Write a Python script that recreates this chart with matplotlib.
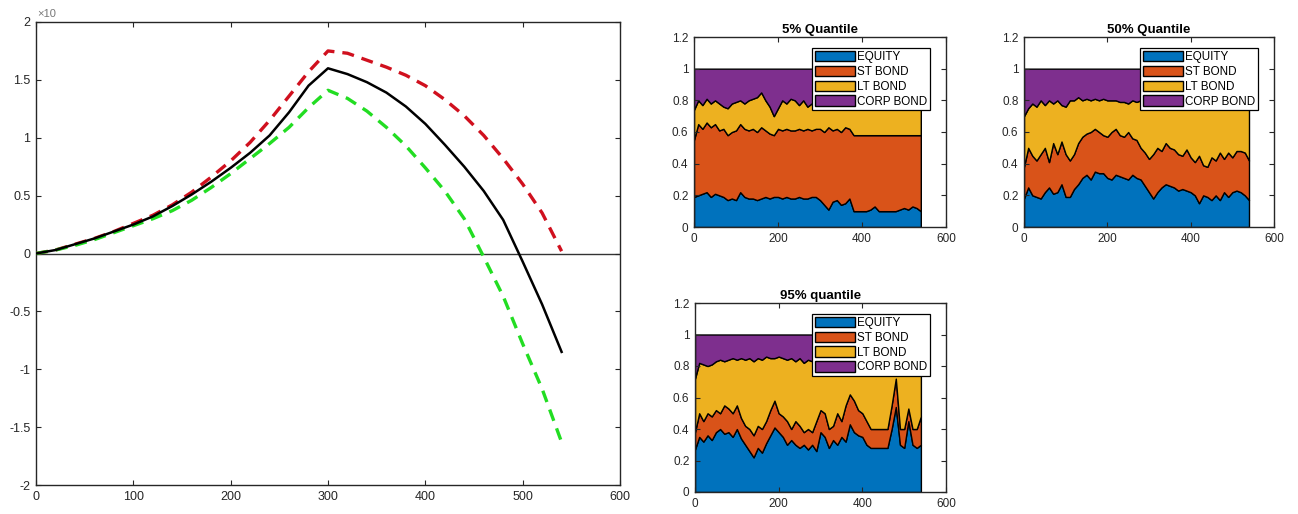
import numpy as np
import matplotlib
matplotlib.use("Agg")
import matplotlib.pyplot as plt
from matplotlib.patches import Patch

plt.rcParams['font.family'] = ['Liberation Sans', 'DejaVu Sans']

# ---------------- left panel data ----------------
t_path = [0, 20, 40, 60, 80, 100, 120, 140, 160, 180, 200, 220, 240, 260, 280,
          300, 320, 340, 360, 380, 400, 420, 440, 460, 480, 500, 520, 540]
mean_path = [0, 0.03, 0.08, 0.13, 0.19, 0.25, 0.32, 0.41, 0.51, 0.62, 0.74, 0.87, 1.02, 1.22, 1.45,
             1.60, 1.55, 1.48, 1.39, 1.27, 1.12, 0.94, 0.75, 0.54, 0.29, -0.07, -0.44, -0.85]
upper_path = [0, 0.03, 0.08, 0.13, 0.19, 0.26, 0.33, 0.42, 0.53, 0.66, 0.80, 0.96, 1.15, 1.36, 1.57,
              1.75, 1.73, 1.67, 1.61, 1.54, 1.45, 1.33, 1.19, 1.02, 0.82, 0.60, 0.35, 0.02]
lower_path = [0, 0.03, 0.07, 0.12, 0.18, 0.24, 0.30, 0.37, 0.46, 0.57, 0.69, 0.82, 0.95, 1.09, 1.26,
              1.41, 1.34, 1.23, 1.09, 0.93, 0.74, 0.54, 0.30, -0.03, -0.37, -0.78, -1.17, -1.63]

# ---------------- quantile panels data ----------------
steps = list(range(0, 550, 10))
labels = ['EQUITY', 'ST BOND', 'LT BOND', 'CORP BOND']
colors = ['#0072BD', '#D95319', '#EDB120', '#7E2F8E']

# cumulative boundaries (top of EQUITY, top of ST BOND, top of LT BOND); CORP BOND fills to 1
eq5 = [.19, .20, .21, .22, .19, .21, .20, .19, .17, .18, .17, .22, .19, .18, .18, .17, .18, .19, .18, .19,
       .19, .18, .19, .18, .18, .19, .18, .18, .19, .19, .17, .14, .11, .16, .17, .14, .15, .18, .10, .10,
       .10, .10, .11, .13, .10, .10, .10, .10, .10, .11, .12, .11, .13, .12, .10]
st5 = [.55, .65, .62, .66, .63, .65, .61, .62, .58, .60, .61, .65, .62, .61, .62, .60, .63, .61, .59, .58,
       .62, .61, .62, .61, .61, .62, .61, .62, .61, .62, .62, .60, .63, .61, .62, .60, .63, .62, .58, .58,
       .58, .58, .58, .58, .58, .58, .58, .58, .58, .58, .58, .58, .58, .58, .58]
lt5 = [.74, .80, .77, .81, .78, .80, .78, .76, .75, .78, .79, .80, .78, .80, .81, .82, .85, .80, .76, .70,
       .75, .80, .78, .81, .80, .77, .80, .76, .78, .80, .79, .78, .80, .79, .78, .80, .79, .78, .78, .78,
       .78, .78, .78, .78, .78, .78, .78, .78, .78, .78, .78, .78, .78, .78, .78]

eq50 = [.18, .25, .20, .19, .18, .22, .25, .21, .22, .27, .19, .19, .24, .27, .31, .33, .30, .35, .34, .34,
        .31, .30, .33, .32, .31, .30, .33, .31, .30, .26, .22, .18, .22, .25, .27, .26, .25, .23, .24, .23,
        .22, .20, .15, .20, .19, .17, .20, .17, .22, .19, .22, .23, .22, .20, .17]
st50 = [.38, .50, .45, .42, .46, .50, .41, .53, .46, .54, .46, .42, .46, .53, .57, .59, .60, .62, .60, .58,
        .57, .60, .62, .58, .57, .60, .56, .55, .50, .47, .43, .46, .50, .48, .53, .50, .49, .46, .45, .49,
        .44, .41, .45, .39, .38, .44, .42, .47, .43, .47, .44, .48, .48, .47, .42]
lt50 = [.70, .75, .78, .76, .80, .77, .80, .78, .80, .77, .76, .80, .80, .82, .80, .81, .80, .81, .80, .81,
        .80, .80, .80, .79, .79, .78, .80, .79, .80, .79, .80, .79, .80, .80, .79, .80, .79, .80, .80, .79,
        .80, .80, .79, .80, .80, .79, .80, .80, .79, .80, .80, .79, .80, .80, .79]

eq95 = [.27, .35, .32, .36, .33, .38, .40, .37, .38, .35, .40, .34, .30, .26, .22, .28, .25, .31, .36, .41,
        .38, .35, .30, .33, .30, .28, .30, .27, .30, .26, .38, .35, .28, .33, .30, .35, .32, .43, .38, .36,
        .35, .30, .28, .28, .28, .28, .28, .40, .54, .30, .28, .45, .30, .28, .30]
st95 = [.38, .50, .45, .50, .48, .52, .50, .55, .53, .50, .55, .47, .42, .40, .36, .42, .40, .45, .52, .58,
        .50, .48, .45, .40, .45, .42, .38, .40, .38, .45, .52, .50, .40, .42, .50, .45, .55, .62, .58, .52,
        .50, .45, .40, .40, .40, .40, .40, .55, .72, .40, .40, .53, .40, .40, .48]
lt95 = [.72, .82, .81, .80, .81, .83, .84, .83, .84, .85, .84, .85, .84, .85, .83, .85, .84, .86, .85, .85,
        .86, .85, .84, .85, .83, .85, .82, .84, .83, .84, .83, .84, .83, .84, .83, .84, .83, .84, .83, .84,
        .83, .84, .83, .84, .83, .84, .83, .84, .83, .84, .83, .84, .83, .84, .83]

panels = [
    ('5% Quantile', eq5, st5, lt5),
    ('50% Quantile', eq50, st50, lt50),
    ('95% quantile', eq95, st95, lt95),
]

W, H = 1298, 514
fig = plt.figure(figsize=(W / 100, H / 100), dpi=100)
fig.patch.set_facecolor('white')

def frac(l, t, r, b):
    return [l / W, 1 - b / H, (r - l) / W, (b - t) / H]

axcol = '#262626'

def style(ax, fs):
    for s in ax.spines.values():
        s.set_color(axcol)
        s.set_linewidth(1.0)
    ax.tick_params(direction='in', top=True, right=True, length=3.5, width=0.8,
                   colors=axcol, labelsize=fs, pad=4)

# ---------------- left panel ----------------
ax = fig.add_axes(frac(36, 22, 620, 485))
ax.axhline(0, color='#333333', lw=1.0, zorder=1)
ax.plot(t_path, upper_path, color='#D0101E', lw=2.4, dashes=(3.6, 2.4), zorder=3)
ax.plot(t_path, lower_path, color='#22DD22', lw=2.4, dashes=(3.6, 2.4), zorder=3)
ax.plot(t_path, mean_path, color='black', lw=1.8, zorder=4)
ax.set_xlim(0, 600)
ax.set_ylim(-2, 2)
ax.set_xticks(range(0, 601, 100))
ax.set_yticks([-2, -1.5, -1, -0.5, 0, 0.5, 1, 1.5, 2])
ax.set_yticklabels(['-2', '-1.5', '-1', '-0.5', '0', '0.5', '1', '1.5', '2'])
style(ax, 9)
fig.text(37 / W, 1 - 17 / H, '×10', fontsize=8, color='#777777', ha='left', va='baseline')

# ---------------- quantile panels ----------------
boxes = [(694, 37, 946, 227), (1024, 37, 1274, 227), (695, 303, 946, 492)]
for (title, eq, st, lt), (l, t, r, b) in zip(panels, boxes):
    a = fig.add_axes(frac(l, t, r, b))
    e = np.array(eq); s_ = np.array(st); lt_ = np.array(lt)
    shares = [e, s_ - e, lt_ - s_, 1 - lt_]
    a.stackplot(steps, *shares, colors=colors, edgecolor='black', linewidth=1.0)
    a.set_xlim(0, 600)
    a.set_ylim(0, 1.2)
    a.set_xticks([0, 200, 400, 600])
    a.set_yticks([0, 0.2, 0.4, 0.6, 0.8, 1.0, 1.2])
    a.set_yticklabels(['0', '0.2', '0.4', '0.6', '0.8', '1', '1.2'])
    style(a, 8.5)
    a.set_title(title, fontsize=9.5, fontweight='bold', pad=3, color='black')
    handles = [Patch(facecolor=c, edgecolor='black', linewidth=1.0) for c in colors]
    leg = a.legend(handles, labels, loc='upper right', bbox_to_anchor=(0.937, 0.942),
                   fontsize=8.4, frameon=True, fancybox=False, framealpha=1, borderaxespad=0,
                   handlelength=3.4, handleheight=1.0, handletextpad=0.2, labelspacing=0.22,
                   borderpad=0.25)
    leg.get_frame().set_edgecolor('black')
    leg.get_frame().set_linewidth(0.9)

fig.savefig('out.png', dpi=100, facecolor='white')
